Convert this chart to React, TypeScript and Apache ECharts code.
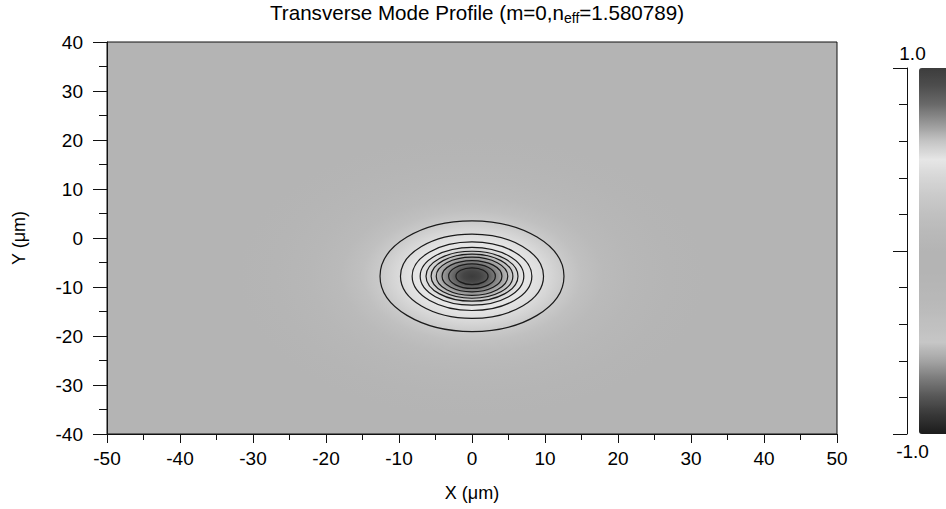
import React, { useEffect, useRef } from "react";
import * as echarts from "echarts";

// ---- data ----
const xTicks = [-50, -40, -30, -20, -10, 0, 10, 20, 30, 40, 50];
const yTicks = [-40, -30, -20, -10, 0, 10, 20, 30, 40];
const colorbarMajorTicks = [-1, 0, 1];

// grey colormap, evenly spaced from -1.0 to 1.0 (step 0.1)
const colormapColors = [
  "#1c1c1c", "#363636", "#555555", "#7a7a7a", "#a4a4a4", "#c6c6c6", "#c0c0c0",
  "#bababa", "#b6b6b6", "#b4b4b4", "#b4b4b4", "#b9b9b9", "#c0c0c0", "#cacaca",
  "#d6d6d6", "#e6e6e6", "#c4c4c4", "#969696", "#6a6a6a", "#4e4e4e", "#3c3c3c",
];

// mode centre (um)
const modeCenterX = 0;
const modeCenterY = -7.8;

// field amplitude versus distance from the centre along X (um)
const profileRadius = [0, 1.2, 2.2, 3.2, 4.1, 4.9, 5.6, 6.3, 7.1, 8.2, 9.8, 12.6, 15, 18, 22, 27, 32];
const profileValue = [1.0, 0.95, 0.86, 0.76, 0.68, 0.62, 0.57, 0.53, 0.5, 0.48, 0.43, 0.3, 0.2, 0.12, 0.05, 0.01, 0];
const profileAspect = 1.12; // x-radius / y-radius of the field

// contour semi-axes (um)
const contourRx = [12.6, 9.8, 8.2, 7.1, 6.3, 5.6, 4.9, 4.1, 3.2, 2.2];
const contourRy = [11.3, 8.6, 7.0, 5.9, 5.1, 4.5, 3.9, 3.2, 2.5, 1.7];

const FONT = "'Liberation Sans', Arial, Helvetica, sans-serif";

function colorOf(v: number): string {
  return echarts.color.lerp((v + 1) / 2, colormapColors) as string;
}

export default function App() {
  const ref = useRef<HTMLDivElement>(null);

  useEffect(() => {
    if (!ref.current) return;
    const chart = echarts.init(ref.current, undefined, { renderer: "svg" });
    const maxR = profileRadius[profileRadius.length - 1];

    const haloData = [[modeCenterX, modeCenterY, maxR, maxR / profileAspect, 0]];
    const contourData = contourRx.map((rx, i) => [modeCenterX, modeCenterY, rx, contourRy[i]]);

    const label = { fontSize: 19, fontFamily: FONT, color: "#000" };

    const option: any = {
      animation: false,
      backgroundColor: "#ffffff",
      textStyle: { fontFamily: FONT, color: "#000" },
      title: {
        left: 270,
        top: 0,
        padding: 0,
        text: "{a|Transverse Mode Profile (m=0,n}{s|eff}{a|=1.580789)}",
        textStyle: {
          fontWeight: "normal",
          rich: {
            a: { fontFamily: FONT, fontSize: 20.6, fontWeight: "normal", color: "#000", lineHeight: 25, verticalAlign: "middle" },
            s: { fontFamily: FONT, fontSize: 14, fontWeight: "normal", color: "#000", lineHeight: 25, verticalAlign: "bottom" },
          },
        },
      },
      grid: [
        {
          left: 107, right: 109, top: 42, bottom: 75,
          show: true, backgroundColor: colorOf(0), borderColor: "#111", borderWidth: 1,
        },
        { left: 907, width: 12, top: 68, height: 366, show: false },
      ],
      xAxis: [
        {
          type: "value", gridIndex: 0, min: -50, max: 50, interval: 10,
          name: "X (μm)", nameLocation: "middle", nameGap: 50,
          nameTextStyle: { ...label, fontSize: 18 },
          axisLine: { show: true, onZero: false, lineStyle: { color: "#111" } },
          axisTick: { show: true, length: 9, lineStyle: { color: "#111" } },
          minorTick: { show: true, splitNumber: 2, length: 6, lineStyle: { color: "#111" } },
          axisLabel: { ...label, margin: 15, customValues: xTicks },
          splitLine: { show: false },
        },
        { type: "value", gridIndex: 1, min: 0, max: 1, show: false },
      ],
      yAxis: [
        {
          type: "value", gridIndex: 0, min: -40, max: 40, interval: 10,
          name: "Y (μm)", nameLocation: "middle", nameGap: 79,
          nameTextStyle: { ...label, fontSize: 18 },
          axisLine: { show: true, onZero: false, lineStyle: { color: "#111" } },
          axisTick: { show: true, length: 14, lineStyle: { color: "#111" } },
          minorTick: { show: true, splitNumber: 2, length: 8, lineStyle: { color: "#111" } },
          axisLabel: { ...label, margin: 24, customValues: yTicks },
          splitLine: { show: false },
        },
        {
          type: "value", gridIndex: 1, position: "left", min: -1, max: 1, interval: 1,
          name: "1.0", nameLocation: "end", nameGap: 5,
          nameTextStyle: { ...label, padding: [0, 0, 0, 11] },
          axisLine: { show: true, onZero: false, lineStyle: { color: "#111" } },
          axisTick: { show: true, length: 14, lineStyle: { color: "#111" }, customValues: colorbarMajorTicks },
          minorTick: { show: true, splitNumber: 5, length: 8, lineStyle: { color: "#111" } },
          axisLabel: { show: false },
          splitLine: { show: false },
        },
        {
          type: "value", gridIndex: 1, position: "left", min: -1, max: 1, interval: 1,
          name: "-1.0", nameLocation: "start", nameGap: 8,
          nameTextStyle: { ...label, padding: [0, 0, 0, 11] },
          axisLine: { show: false },
          axisTick: { show: false },
          axisLabel: { show: false },
          splitLine: { show: false },
        },
      ],
      visualMap: {
        type: "continuous", min: -1, max: 1, calculable: false, orient: "vertical",
        left: 919, top: 68, itemWidth: 30, itemHeight: 366, padding: 0,
        seriesIndex: 0, dimension: 4, hoverLink: false,
        inRange: { color: colormapColors },
        textStyle: { color: "#000" },
      },
      series: [
        {
          type: "custom", name: "field", coordinateSystem: "cartesian2d",
          xAxisIndex: 0, yAxisIndex: 0, clip: true, silent: true,
          data: haloData,
          renderItem: (params: any, api: any) => {
            const c = api.coord([api.value(0), api.value(1)]);
            const s = api.size([api.value(2), api.value(3)]);
            const stops = profileRadius.map((r, i) => ({ offset: r / maxR, color: colorOf(profileValue[i]) }));
            return {
              type: "ellipse",
              shape: { cx: c[0], cy: c[1], rx: s[0], ry: s[1] },
              style: { fill: new echarts.graphic.RadialGradient(0.5, 0.5, 0.5, stops), stroke: null },
              silent: true,
            };
          },
        },
        {
          type: "custom", name: "contours", coordinateSystem: "cartesian2d",
          xAxisIndex: 0, yAxisIndex: 0, clip: true, silent: true,
          data: contourData,
          renderItem: (params: any, api: any) => {
            const c = api.coord([api.value(0), api.value(1)]);
            const s = api.size([api.value(2), api.value(3)]);
            return {
              type: "ellipse",
              shape: { cx: c[0], cy: c[1], rx: s[0], ry: s[1] },
              style: { fill: "none", stroke: "#1a1a1a", lineWidth: 1.2 },
              silent: true,
            };
          },
        },
      ],
    };

    chart.setOption(option);
    return () => chart.dispose();
  }, []);

  return (
    <div
      ref={ref}
      style={{ position: "fixed", left: 0, top: 0, width: 946, height: 509, background: "#fff" }}
    />
  );
}
